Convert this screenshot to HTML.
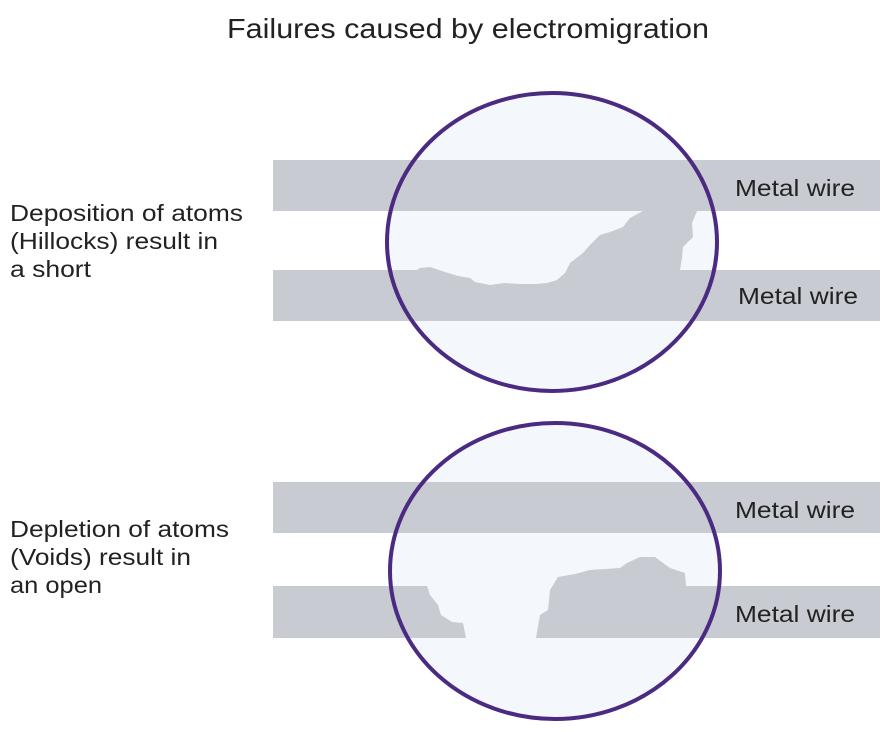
<!DOCTYPE html>
<html><head><meta charset="utf-8"><style>
body{margin:0;background:#fff;width:896px;height:732px;overflow:hidden}
svg{display:block}
text{font-family:"Liberation Sans",sans-serif;fill:#222}
</style></head><body>
<svg width="896" height="732" viewBox="0 0 896 732">
<text x="227" y="38" font-size="28" textLength="482" lengthAdjust="spacingAndGlyphs">Failures caused by electromigration</text>
<g font-size="23">
<text x="10" y="221" textLength="233" lengthAdjust="spacingAndGlyphs">Deposition of atoms</text>
<text x="10" y="249" textLength="208" lengthAdjust="spacingAndGlyphs">(Hillocks) result in</text>
<text x="10" y="277" textLength="81" lengthAdjust="spacingAndGlyphs">a short</text>
<text x="10" y="537" textLength="219" lengthAdjust="spacingAndGlyphs">Depletion of atoms</text>
<text x="10" y="565" textLength="181" lengthAdjust="spacingAndGlyphs">(Voids) result in</text>
<text x="10" y="593" textLength="92" lengthAdjust="spacingAndGlyphs">an open</text>
</g>
<!-- top -->
<ellipse cx="552" cy="242" rx="165" ry="149" fill="#f4f7fb"/>
<rect x="273" y="160" width="607" height="51" fill="#c8cbd1"/>
<polygon fill="#c8cbd1" points="273,270 417,270 420,268 430,267 445,272 458,276 470,278 475,282 490,285 505,283 520,284 535,284 547,283 557,280 565,273 570,263 583,253 590,245 600,235 610,232 623,227 630,218 643,211 697,211 692,223 693,237 683,247 682,258 680,270 880,270 880,321 273,321"/>
<ellipse cx="552" cy="242" rx="165" ry="149" fill="none" stroke="#4b2a82" stroke-width="4"/>
<!-- bottom -->
<ellipse cx="555" cy="571" rx="165" ry="148" fill="#f4f7fb"/>
<rect x="273" y="482" width="607" height="51" fill="#c8cbd1"/>
<rect x="273" y="586" width="154" height="52" fill="#c8cbd1"/>
<polygon fill="#c8cbd1" points="427,586 430,595 438,605 441,615 452,622 463,623 466,638 427,638"/>
<polygon fill="#c8cbd1" points="536,638 540,615 548,610 550,590 558,577 575,574 590,570 620,568 627,563 640,557 655,557 670,568 685,573 686,586 880,586 880,638"/>
<ellipse cx="555" cy="571" rx="165" ry="148" fill="none" stroke="#4b2a82" stroke-width="4"/>
<g font-size="23">
<text x="735" y="196" textLength="120" lengthAdjust="spacingAndGlyphs">Metal wire</text>
<text x="738" y="304" textLength="120" lengthAdjust="spacingAndGlyphs">Metal wire</text>
<text x="735" y="518" textLength="120" lengthAdjust="spacingAndGlyphs">Metal wire</text>
<text x="735" y="622" textLength="120" lengthAdjust="spacingAndGlyphs">Metal wire</text>
</g>
</svg>
</body></html>
